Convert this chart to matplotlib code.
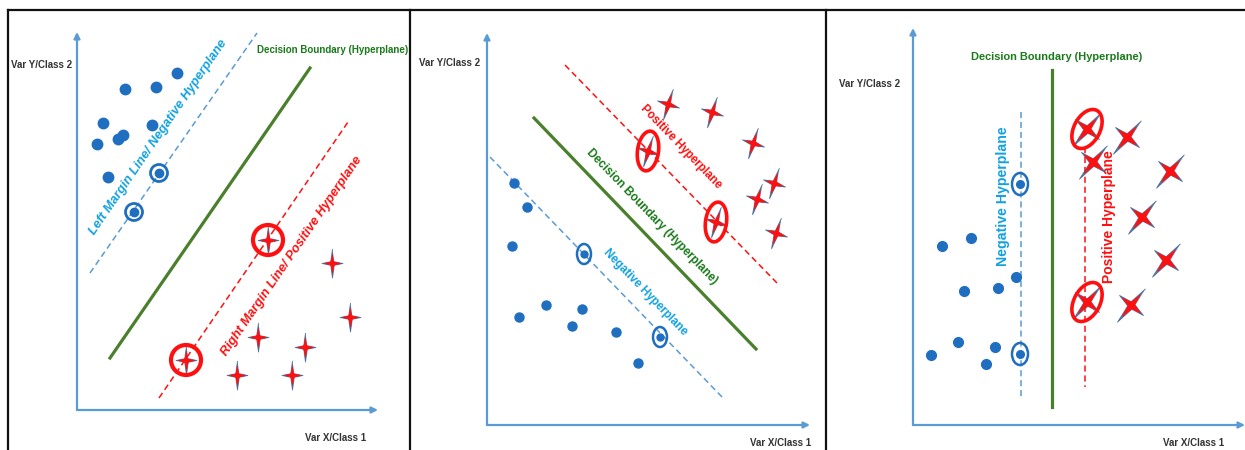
"""svm_hyperplanes.py

三幅 SVM 示意图：斜向上、斜向下、竖直的决策边界与两侧 margin 线。
坐标单位按像素取，原点在各自坐标轴交点处。
"""

import numpy as np
import matplotlib
matplotlib.use("Agg")
import matplotlib.pyplot as plt
from matplotlib.patches import Circle, Ellipse

plt.rcParams["font.family"] = ["Liberation Sans", "DejaVu Sans"]

AXIS_BLUE = "#5B9BD5"
DOT_BLUE = "#1F6EC0"
TEXT_BLUE = "#12A2E0"
GREEN_LINE = "#4A7F2C"
GREEN_TEXT = "#1A7A1A"
RED = "#FF1010"
STAR_EDGE = "#3A5A8C"
LABEL_GRAY = "#333333"

# ---- panel 1: 斜向上 ----
p1_dots_x = [48, 79, 100, 26, 75, 20, 41, 46, 31]
p1_dots_y = [321, 323, 337, 287, 285, 266, 271, 275, 233]
p1_sv_neg_x = [82, 57]
p1_sv_neg_y = [237, 198]
p1_stars_x = [255, 273, 181, 228, 160, 215]
p1_stars_y = [147, 93, 73, 63, 35, 35]
p1_sv_pos_x = [191, 109]
p1_sv_pos_y = [170, 50]
p1_boundary = ([33, 233], [52, 342])
p1_neg_line = ([13, 180], [137, 377])
p1_pos_line = ([82, 271], [12, 288])

# ---- panel 2: 斜向下 ----
p2_dots_x = [27, 40, 25, 32, 59, 95, 85, 129, 151]
p2_dots_y = [242, 218, 179, 108, 120, 116, 99, 93, 62]
p2_sv_neg_x = [97, 173]
p2_sv_neg_y = [171, 88]
p2_stars_x = [181, 225, 266, 287, 270, 289]
p2_stars_y = [321, 313, 282, 242, 226, 192]
p2_sv_pos_x = [161, 229]
p2_sv_pos_y = [274, 203]
p2_boundary = ([47, 269], [307, 76])
p2_neg_line = ([3, 236], [268, 27])
p2_pos_line = ([78, 290], [360, 142])

# ---- panel 3: 竖直 ----
p3_dots_x = [29, 58, 51, 85, 103, 18, 45, 82, 73]
p3_dots_y = [179, 187, 134, 137, 148, 70, 83, 78, 61]
p3_sv_neg_x = [107, 107]
p3_sv_neg_y = [241, 71]
p3_stars_x = [214, 180, 257, 229, 253, 218]
p3_stars_y = [288, 263, 254, 208, 165, 120]
p3_sv_pos_x = [174, 174]
p3_sv_pos_y = [296, 123]
p3_boundary = ([139, 139], [355, 18])
p3_neg_line = ([108, 108], [313, 28])
p3_pos_line = ([172, 172], [278, 38])


def star_verts(angle, long_arm=1.0, short_arm=0.72, inner=0.13):
    """四角星，angle 为长轴相对竖直方向的旋转角（度，顺时针）。"""
    pts = []
    for k in range(8):
        a = np.pi / 2 + k * np.pi / 4
        if k % 2 == 0:
            r = long_arm if k % 4 == 0 else short_arm
        else:
            r = inner
        pts.append((r * np.cos(a), r * np.sin(a)))
    pts = np.array(pts)
    t = np.deg2rad(-angle)
    rot = np.array([[np.cos(t), -np.sin(t)], [np.sin(t), np.cos(t)]])
    return [tuple(p) for p in pts @ rot.T]


def draw_stars(ax, xs, ys, angle, size):
    outer = star_verts(angle, inner=0.17)
    inner_ = star_verts(angle, long_arm=0.6, short_arm=0.5, inner=0.15)
    ax.plot(xs, ys, ls="none", marker=outer, ms=size, mfc=STAR_EDGE,
            mec=STAR_EDGE, mew=0.6, alpha=0.8, zorder=4)
    ax.plot(xs, ys, ls="none", marker=inner_, ms=size * 0.65, mfc=RED,
            mec=RED, mew=0.4, zorder=5)


def draw_axes(ax, x_len, y_len):
    arrow = dict(arrowstyle="-|>", color=AXIS_BLUE, lw=1.6, mutation_scale=9,
                 shrinkA=0, shrinkB=0)
    ax.annotate("", xy=(x_len, 0), xytext=(0, 0), arrowprops=arrow)
    ax.annotate("", xy=(0, y_len), xytext=(0, 0), arrowprops=arrow)


fig = plt.figure(figsize=(12.45, 4.5), dpi=100)
W, H = 1245, 450

# 每个面板: (左, 右, 原点x, 原点y) 像素
panels = [(8, 410, 77, 410), (410, 826, 487, 425), (826, 1245, 913, 425)]
axes = []
for left, right, x0, y0 in panels:
    ax = fig.add_axes([left / W, 0, (right - left) / W, (H - 10) / H])
    ax.set_xlim(left - x0, right - x0)
    ax.set_ylim(y0 - H, y0 - 10)
    ax.set_axis_off()
    axes.append(ax)

# 外框
fig.add_artist(plt.Line2D([8 / W, 1245 / W], [1 - 10 / H, 1 - 10 / H], color="#111111", lw=1.6))
for xb in [8, 410, 826]:
    fig.add_artist(plt.Line2D([xb / W, xb / W], [0, 1 - 10 / H], color="#111111", lw=1.6))

label_kw = dict(color=LABEL_GRAY, fontsize=7, fontweight="bold", ha="center", va="center")
rot_kw = dict(fontweight="bold", rotation_mode="anchor", ha="center", va="center")

# ---------------- panel 1 ----------------
ax = axes[0]
draw_axes(ax, 301, 378)
ax.text(-35, 345, "Var Y/Class 2", **label_kw)
ax.text(259, -28, "Var X/Class 1", **label_kw)
ax.plot(*p1_boundary, color=GREEN_LINE, lw=2.3, zorder=2)
ax.plot(*p1_neg_line, color=AXIS_BLUE, lw=1.1, ls=(0, (4, 2.5)), zorder=2)
ax.plot(*p1_pos_line, color=RED, lw=1.1, ls=(0, (4, 2.5)), zorder=2)
ax.plot(p1_dots_x, p1_dots_y, "o", color=DOT_BLUE, ms=7.5, zorder=3)
ax.plot(p1_sv_neg_x, p1_sv_neg_y, "o", color=DOT_BLUE, ms=6, zorder=3)
for x, y in zip(p1_sv_neg_x, p1_sv_neg_y):
    ax.add_patch(Circle((x, y), 8.5, fill=False, ec=DOT_BLUE, lw=2, zorder=3))
draw_stars(ax, p1_stars_x, p1_stars_y, 0, 21)
draw_stars(ax, p1_sv_pos_x, p1_sv_pos_y, 0, 21)
for x, y in zip(p1_sv_pos_x, p1_sv_pos_y):
    ax.add_patch(Circle((x, y), 15, fill=False, ec=RED, lw=3, zorder=6))
ax.text(256, 360, "Decision Boundary (Hyperplane)", color=GREEN_TEXT, fontsize=7,
        fontweight="bold", ha="center", va="center")
ax.text(81, 273, "Left Margin Line/ Negative Hyperplane", color=TEXT_BLUE, fontsize=9.3,
        fontstyle="italic", rotation=55.5, **rot_kw)
ax.text(215, 154, "Right Margin Line/ Positive Hyperplane", color=RED, fontsize=9.3,
        fontstyle="italic", rotation=55.5, **rot_kw)

# ---------------- panel 2 ----------------
ax = axes[1]
draw_axes(ax, 323, 392)
ax.text(-37, 362, "Var Y/Class 2", **label_kw)
ax.text(294, -18, "Var X/Class 1", **label_kw)
ax.plot(*p2_boundary, color=GREEN_LINE, lw=2.3, zorder=2)
ax.plot(*p2_neg_line, color=AXIS_BLUE, lw=1.1, ls=(0, (4, 2.5)), zorder=2)
ax.plot(*p2_pos_line, color=RED, lw=1.1, ls=(0, (4, 2.5)), zorder=2)
ax.plot(p2_dots_x, p2_dots_y, "o", color=DOT_BLUE, ms=6.5, zorder=3)
ax.plot(p2_sv_neg_x, p2_sv_neg_y, "o", color=DOT_BLUE, ms=5, zorder=3)
for x, y in zip(p2_sv_neg_x, p2_sv_neg_y):
    ax.add_patch(Ellipse((x, y), 14, 20, fill=False, ec=DOT_BLUE, lw=1.8, zorder=3))
draw_stars(ax, p2_stars_x, p2_stars_y, 18, 22)
draw_stars(ax, p2_sv_pos_x, p2_sv_pos_y, 18, 22)
for x, y in zip(p2_sv_pos_x, p2_sv_pos_y):
    ax.add_patch(Ellipse((x, y), 21, 40, angle=-8, fill=False, ec=RED, lw=2.6, zorder=6))
ax.text(194, 278, "Positive Hyperplane", color=RED, fontsize=8.4, rotation=-46, **rot_kw)
ax.text(165, 208, "Decision Boundary (Hyperplane)", color=GREEN_TEXT, fontsize=8.5,
        rotation=-46, **rot_kw)
ax.text(158, 133, "Negative Hyperplane", color=TEXT_BLUE, fontsize=8.4, rotation=-46, **rot_kw)

# ---------------- panel 3 ----------------
ax = axes[2]
draw_axes(ax, 332, 397)
ax.text(-43, 341, "Var Y/Class 2", **label_kw)
ax.text(281, -18, "Var X/Class 1", **label_kw)
ax.plot(*p3_boundary, color=GREEN_LINE, lw=2.3, zorder=2)
ax.plot(*p3_neg_line, color=AXIS_BLUE, lw=1.1, ls=(0, (4, 2.5)), zorder=2)
ax.plot(*p3_pos_line, color=RED, lw=1.1, ls=(0, (4, 2.5)), zorder=2)
ax.plot(p3_dots_x, p3_dots_y, "o", color=DOT_BLUE, ms=7, zorder=3)
ax.plot(p3_sv_neg_x, p3_sv_neg_y, "o", color=DOT_BLUE, ms=5.5, zorder=3)
for x, y in zip(p3_sv_neg_x, p3_sv_neg_y):
    ax.add_patch(Ellipse((x, y), 16, 22, fill=False, ec=DOT_BLUE, lw=1.8, zorder=3))
draw_stars(ax, p3_stars_x, p3_stars_y, 40, 24)
draw_stars(ax, p3_sv_pos_x, p3_sv_pos_y, 40, 24)
for x, y in zip(p3_sv_pos_x, p3_sv_pos_y):
    ax.add_patch(Ellipse((x, y), 26, 42, angle=-28, fill=False, ec=RED, lw=2.6, zorder=6))
ax.text(144, 368, "Decision Boundary (Hyperplane)", color=GREEN_TEXT, fontsize=7.9,
        fontweight="bold", ha="center", va="center")
ax.text(90, 229, "Negative Hyperplane", color=TEXT_BLUE, fontsize=10.2, rotation=90, **rot_kw)
ax.text(196, 208, "Positive Hyperplane", color=RED, fontsize=10, rotation=90, **rot_kw)

fig.savefig("out.png", dpi=100)
